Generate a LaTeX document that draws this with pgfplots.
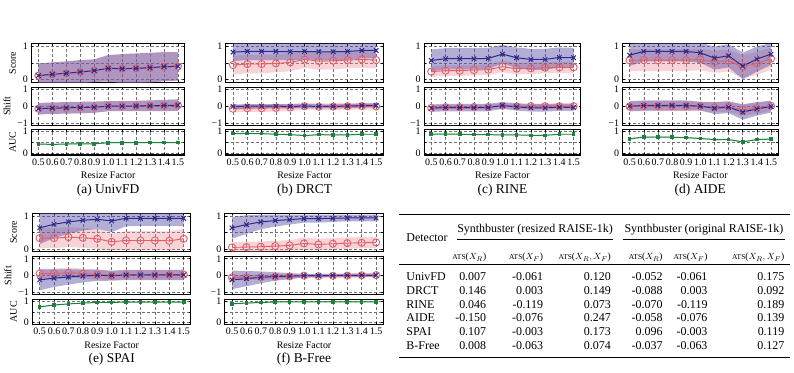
\documentclass[border=0pt]{standalone}
\usepackage{fontspec}
\setmainfont{Liberation Serif}
\usepackage{pgfplots}
\pgfplotsset{compat=1.18}
\usepgfplotslibrary{fillbetween}
\usepackage{pgfplotstable}
\usepackage{booktabs}
\usepackage{array}

\definecolor{fakeblue}{RGB}{45,40,140}
\definecolor{realred}{RGB}{225,95,105}
\definecolor{aucgreen}{RGB}{30,130,60}
\definecolor{bandblue}{RGB}{85,75,165}
\definecolor{bandred}{RGB}{235,130,140}
\definecolor{bandgreen}{RGB}{110,190,120}

% columns: resize factor, fake score (mean/std), real score, fake shift, real shift, AUC
\pgfplotstableread{
x   fs   fsd  rs   rsd  fh    fhd  rh    rhd  au   aud
0.5 0.12 0.37 0.12 0.37 -0.15 0.34 -0.15 0.34 0.42 0.02
0.6 0.16 0.36 0.16 0.36 -0.12 0.34 -0.12 0.34 0.40 0.02
0.7 0.19 0.36 0.19 0.36 -0.10 0.34 -0.10 0.34 0.42 0.02
0.8 0.23 0.36 0.23 0.36 -0.08 0.34 -0.08 0.34 0.43 0.02
0.9 0.27 0.34 0.27 0.34 -0.06 0.33 -0.06 0.33 0.43 0.02
1.0 0.34 0.40 0.34 0.40  0.00 0.30  0.00 0.30 0.48 0.02
1.1 0.33 0.44 0.33 0.44  0.00 0.30  0.00 0.30 0.48 0.02
1.2 0.34 0.45 0.34 0.45  0.01 0.31  0.01 0.31 0.48 0.02
1.3 0.36 0.45 0.36 0.45  0.02 0.32  0.02 0.32 0.49 0.02
1.4 0.39 0.44 0.39 0.44  0.04 0.33  0.04 0.33 0.49 0.02
1.5 0.40 0.43 0.40 0.43  0.06 0.34  0.06 0.34 0.49 0.02
}\univfd

\pgfplotstableread{
x   fs   fsd  rs   rsd  fh    fhd  rh    rhd  au   aud
0.5 0.83 0.27 0.44 0.28 -0.02 0.12 -0.15 0.22 0.91 0.02
0.6 0.85 0.26 0.47 0.28  0.00 0.12 -0.12 0.22 0.92 0.02
0.7 0.85 0.26 0.47 0.28  0.00 0.12 -0.12 0.22 0.91 0.02
0.8 0.85 0.26 0.49 0.27  0.00 0.12 -0.10 0.22 0.88 0.02
0.9 0.84 0.26 0.52 0.27 -0.01 0.12 -0.08 0.22 0.86 0.02
1.0 0.85 0.24 0.61 0.26  0.00 0.12  0.00 0.20 0.82 0.02
1.1 0.84 0.25 0.56 0.26 -0.01 0.12 -0.04 0.20 0.86 0.02
1.2 0.84 0.25 0.57 0.26 -0.01 0.12 -0.03 0.20 0.85 0.02
1.3 0.85 0.25 0.59 0.25  0.00 0.12 -0.01 0.20 0.85 0.02
1.4 0.88 0.24 0.61 0.25  0.04 0.12  0.00 0.20 0.88 0.02
1.5 0.88 0.24 0.59 0.25  0.04 0.12 -0.02 0.20 0.88 0.02
}\drct

\pgfplotstableread{
x   fs   fsd  rs   rsd  fh    fhd  rh    rhd  au   aud
0.5 0.58 0.33 0.24 0.16 -0.12 0.22 -0.10 0.15 0.89 0.02
0.6 0.63 0.32 0.27 0.16 -0.08 0.22 -0.06 0.15 0.89 0.02
0.7 0.63 0.32 0.27 0.16 -0.09 0.22 -0.06 0.15 0.88 0.02
0.8 0.63 0.32 0.29 0.16 -0.09 0.22 -0.05 0.15 0.86 0.02
0.9 0.64 0.32 0.30 0.16 -0.08 0.22 -0.05 0.15 0.86 0.02
1.0 0.77 0.28 0.39 0.17  0.04 0.20  0.02 0.14 0.85 0.02
1.1 0.66 0.31 0.33 0.17 -0.04 0.22 -0.02 0.15 0.85 0.02
1.2 0.61 0.32 0.34 0.17 -0.10 0.22  0.00 0.15 0.83 0.02
1.3 0.61 0.32 0.36 0.17 -0.10 0.22  0.00 0.15 0.83 0.02
1.4 0.67 0.30 0.37 0.17 -0.06 0.22  0.00 0.15 0.88 0.02
1.5 0.66 0.30 0.37 0.17 -0.07 0.22  0.00 0.15 0.88 0.02
}\rine

\pgfplotstableread{
x   fs   fsd  rs   rsd  fh    fhd  rh    rhd  au   aud
0.5 0.74 0.33 0.58 0.33  0.00 0.30 -0.02 0.30 0.66 0.03
0.6 0.85 0.30 0.59 0.33  0.04 0.30  0.00 0.30 0.75 0.03
0.7 0.85 0.30 0.58 0.33  0.04 0.30  0.00 0.30 0.75 0.03
0.8 0.85 0.30 0.59 0.33  0.04 0.30  0.00 0.30 0.74 0.03
0.9 0.85 0.30 0.59 0.33  0.04 0.30  0.00 0.30 0.72 0.03
1.0 0.81 0.30 0.61 0.33  0.00 0.25  0.00 0.28 0.68 0.03
1.1 0.65 0.35 0.54 0.33 -0.12 0.35 -0.06 0.30 0.63 0.03
1.2 0.72 0.35 0.57 0.33 -0.06 0.35 -0.03 0.30 0.63 0.03
1.3 0.41 0.40 0.39 0.35 -0.35 0.45 -0.22 0.35 0.52 0.03
1.4 0.62 0.38 0.49 0.35 -0.16 0.40 -0.12 0.32 0.63 0.03
1.5 0.77 0.33 0.63 0.33 -0.03 0.35  0.02 0.30 0.65 0.03
}\aide

\pgfplotstableread{
x   fs   fsd  rs   rsd  fh    fhd  rh    rhd  au   aud
0.5 0.64 0.49 0.33 0.30 -0.25 0.62  0.12 0.30 0.73 0.02
0.6 0.75 0.42 0.33 0.30 -0.15 0.52  0.12 0.30 0.82 0.02
0.7 0.82 0.36 0.36 0.30 -0.08 0.45  0.17 0.30 0.87 0.02
0.8 0.87 0.31 0.34 0.30 -0.02 0.38  0.12 0.30 0.91 0.02
0.9 0.90 0.29 0.31 0.30  0.02 0.33  0.06 0.30 0.94 0.02
1.0 0.85 0.34 0.22 0.25  0.00 0.30  0.00 0.25 0.94 0.02
1.1 0.93 0.24 0.26 0.28  0.04 0.30  0.04 0.28 0.96 0.02
1.2 0.93 0.23 0.26 0.28  0.04 0.30  0.04 0.28 0.96 0.02
1.3 0.93 0.23 0.26 0.28  0.04 0.30  0.04 0.28 0.96 0.02
1.4 0.93 0.23 0.25 0.28  0.04 0.30  0.04 0.28 0.96 0.02
1.5 0.93 0.23 0.31 0.30  0.04 0.30  0.06 0.30 0.96 0.02
}\spai

\pgfplotstableread{
x   fs   fsd  rs   rsd  fh    fhd  rh    rhd  au   aud
0.5 0.64 0.33 0.05 0.16 -0.25 0.55 -0.10 0.15 0.88 0.02
0.6 0.74 0.28 0.06 0.16 -0.18 0.45 -0.10 0.15 0.91 0.02
0.7 0.82 0.22 0.07 0.16 -0.10 0.35 -0.09 0.15 0.94 0.02
0.8 0.86 0.18 0.09 0.16 -0.05 0.25 -0.07 0.15 0.96 0.02
0.9 0.89 0.15 0.11 0.16 -0.03 0.18 -0.05 0.15 0.97 0.02
1.0 0.92 0.12 0.17 0.18  0.00 0.10  0.00 0.12 0.97 0.02
1.1 0.92 0.12 0.14 0.17  0.00 0.10 -0.03 0.13 0.97 0.02
1.2 0.93 0.11 0.16 0.17  0.01 0.10 -0.01 0.13 0.97 0.02
1.3 0.94 0.10 0.18 0.17  0.01 0.10  0.00 0.13 0.97 0.02
1.4 0.94 0.10 0.19 0.17  0.02 0.10  0.02 0.13 0.97 0.02
1.5 0.94 0.10 0.20 0.17  0.02 0.10  0.03 0.13 0.97 0.02
}\bfree

\pgfplotsset{
  panel/.style={
    scale only axis, anchor=north west,
    xmin=0.45, xmax=1.55,
    xtick={0.5,0.6,0.7,0.8,0.9,1.0,1.1,1.2,1.3,1.4,1.5},
    xticklabels={},
    grid=major,
    major grid style={black!55, line width=0.5pt, dash pattern=on 3pt off 2pt},
    axis line style={line width=1.1pt},
    tick style={line width=0.5pt, black},
    major tick length=2pt,
    tick label style={font=\fontsize{10}{10}\selectfont},
    label style={font=\fontsize{10}{10}\selectfont},
    /pgf/number format/assume math mode=true,
  },
  ylabyes/.style={ylabel={#1}},
  ylabno/.style={},
  fakeline/.style={color=fakeblue, line width=1pt, mark=x, mark size=3.2pt},
  realline/.style={color=realred, line width=0.9pt, mark=o, mark size=3.6pt},
  aucline/.style={color=aucgreen, line width=1pt, mark=square*, mark size=1.3pt},
}

% shaded mean +/- std band from two table columns
\newcommand{\band}[4]{%
  \addplot[draw=none, name path=up, forget plot] table[x=x, y expr=\thisrow{#2}+\thisrow{#3}] {#1};
  \addplot[draw=none, name path=lo, forget plot] table[x=x, y expr=\thisrow{#2}-\thisrow{#3}] {#1};
  \addplot[#4, forget plot] fill between[of=up and lo];
}

% one detector: score, shift and AUC panels stacked, with its caption
% #1 table, #2 left edge, #3 top edge, #4 box width, #5 yes/no y labels, #6 caption
\newcommand{\detector}[6]{%
  \begin{axis}[panel, at={(#2pt,-#3pt)}, width=#4pt, height=38.5pt,
      ymin=-0.08, ymax=1.08, ytick={0,0.5,1}, yticklabels={0,,1}, ylab#5=Score]
    \band{#1}{rs}{rsd}{fill=bandred, fill opacity=0.35}
    \band{#1}{fs}{fsd}{fill=bandblue, fill opacity=0.45}
    \addplot[realline] table[x=x, y=rs] {#1};
    \addplot[fakeline] table[x=x, y=fs] {#1};
  \end{axis}
  \begin{axis}[panel, at={(#2pt,-#3pt-43.5pt)}, width=#4pt, height=38pt,
      ymin=-1.12, ymax=1.12, ytick={-1,0,1}, yticklabels={−1,0,1}, ylab#5=Shift]
    \band{#1}{rh}{rhd}{fill=bandred, fill opacity=0.35}
    \band{#1}{fh}{fhd}{fill=bandblue, fill opacity=0.45}
    \addplot[realline] table[x=x, y=rh] {#1};
    \addplot[fakeline] table[x=x, y=fh] {#1};
  \end{axis}
  \begin{axis}[panel, at={(#2pt,-#3pt-86pt)}, width=#4pt, height=25.5pt,
      ymin=-0.1, ymax=1.1, ytick={0,0.5,1}, yticklabels={0,,1}, ylab#5=AUC,
      xticklabels={0.5,0.6,0.7,0.8,0.9,1.0,1.1,1.2,1.3,1.4,1.5},
      xlabel={Resize Factor}]
    \band{#1}{au}{aud}{fill=bandgreen, fill opacity=0.4}
    \addplot[aucline] table[x=x, y=au] {#1};
  \end{axis}
  \node[font=\fontsize{13.5}{13.5}\selectfont] at (#2pt+#4pt/2,-#3pt-146.7pt) {#6};
}

\newcommand{\ats}[1]{{\fontsize{9.5}{10}\selectfont{\fontsize{7.5}{8}\selectfont ATS}(#1)}}
\newcolumntype{R}[1]{>{\raggedleft\arraybackslash}p{#1}}

\begin{document}
\begin{tikzpicture}
  \path (0pt,0pt) rectangle (794pt,-374pt);
  \detector{\univfd}{29}{44}{154}{yes}{(a) UnivFD}
  \detector{\drct}{224}{44}{158}{no}{(b) DRCT}
  \detector{\rine}{423}{44}{157}{no}{(c) RINE}
  \detector{\aide}{622}{44}{156}{no}{(d) AIDE}
  \detector{\spai}{30}{214}{159}{yes}{(e) SPAI}
  \detector{\bfree}{223}{214}{159}{no}{(f) B-Free}
  \node[anchor=north west, inner sep=0pt, font=\fontsize{12}{14}\selectfont] at (398pt,-214.5pt) {%
    \setlength{\tabcolsep}{0pt}%
    \setlength{\aboverulesep}{0pt}%
    \setlength{\belowrulesep}{0pt}%
    \setlength{\heavyrulewidth}{1pt}%
    \setlength{\lightrulewidth}{0.6pt}%
    \begin{tabular}{@{\hspace{7pt}}p{46pt}R{34pt}R{57pt}R{68pt}@{\hspace{7pt}}R{45pt}R{45pt}R{77pt}@{\hspace{6pt}}}
      \toprule
      \raisebox{-9pt}[0pt][0pt]{Detector}\rule[-6.1pt]{0pt}{23.6pt} & \multicolumn{3}{c}{Synthbuster (resized RAISE-1k)} & \multicolumn{3}{c}{Synthbuster (original RAISE-1k)} \\
      \cmidrule(lr){2-4}\cmidrule(lr){5-7}
      \rule[-3.3pt]{0pt}{24.5pt} & \ats{$X_R$} & \ats{$X_F$} & \ats{$X_R, X_F$} & \ats{$X_R$} & \ats{$X_F$} & \ats{$X_R, X_F$} \\
      \midrule
      UnivFD\rule{0pt}{15.4pt} & 0.007 & -0.061 & 0.120 & -0.052 & -0.061 & 0.175 \\
      DRCT & 0.146 & 0.003 & 0.149 & -0.088 & 0.003 & 0.092 \\
      RINE & 0.046 & -0.119 & 0.073 & -0.070 & -0.119 & 0.189 \\
      AIDE & -0.150 & -0.076 & 0.247 & -0.058 & -0.076 & 0.139 \\
      SPAI & 0.107 & -0.003 & 0.173 & 0.096 & -0.003 & 0.119 \\
      B-Free\rule[-7.2pt]{0pt}{17pt} & 0.008 & -0.063 & 0.074 & -0.037 & -0.063 & 0.127 \\
      \bottomrule
    \end{tabular}};
\end{tikzpicture}
\end{document}
